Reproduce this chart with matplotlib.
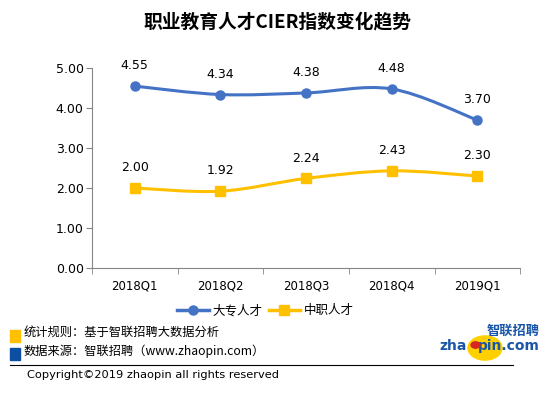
import matplotlib
matplotlib.use("Agg")
import matplotlib.pyplot as plt
from matplotlib.patches import Circle, Rectangle, PathPatch
from matplotlib.path import Path
from matplotlib.lines import Line2D

plt.rcParams["font.family"] = ["Noto Sans CJK SC", "DejaVu Sans"]

quarters = ["2018Q1", "2018Q2", "2018Q3", "2018Q4", "2019Q1"]
dazhuan = [4.55, 4.34, 4.38, 4.48, 3.70]
zhongzhi = [2.00, 1.92, 2.24, 2.43, 2.30]
yticks = [0, 1, 2, 3, 4, 5]

blue = "#4472C4"
yellow = "#FFC000"
axis_gray = "#868686"


def smooth_path(xs, ys):
    # Excel-like smoothed line: cubic bezier segments through the points
    n = len(xs)
    verts = [(xs[0], ys[0])]
    codes = [Path.MOVETO]
    for i in range(n - 1):
        i0 = max(i - 1, 0)
        i3 = min(i + 2, n - 1)
        c1 = (xs[i] + (xs[i + 1] - xs[i0]) / 6, ys[i] + (ys[i + 1] - ys[i0]) / 6)
        c2 = (xs[i + 1] - (xs[i3] - xs[i]) / 6, ys[i + 1] - (ys[i3] - ys[i]) / 6)
        verts += [c1, c2, (xs[i + 1], ys[i + 1])]
        codes += [Path.CURVE4] * 3
    return Path(verts, codes)


fig = plt.figure(figsize=(5.54, 3.94), dpi=100)
ax = fig.add_axes([0.166, 0.320, 0.773, 0.507])

x = list(range(len(quarters)))
for vals, color, mk in [(dazhuan, blue, "o"), (zhongzhi, yellow, "s")]:
    ax.add_patch(PathPatch(smooth_path(x, vals), fill=False, edgecolor=color, lw=2.2,
                           capstyle="round", zorder=3))
    ax.plot(x, vals, ls="none", marker=mk, ms=6.5, color=color, zorder=4)
    for xi, v in zip(x, vals):
        ax.annotate(f"{v:.2f}", (xi, v), xytext=(0, 10), textcoords="offset points",
                    ha="center", va="bottom", fontsize=9, family="DejaVu Sans")

ax.set_xlim(-0.5, len(quarters) - 0.5)
ax.set_ylim(0, 5)
ax.set_yticks(yticks)
ax.set_yticklabels([f"{t:.2f}" for t in yticks], fontsize=9, family="DejaVu Sans")
ax.set_xticks(x)
ax.set_xticklabels(quarters, fontsize=8.5, family="DejaVu Sans")
ax.set_xticks([i - 0.5 for i in range(len(quarters) + 1)], minor=True)
ax.tick_params(axis="x", which="major", length=0, pad=8)
ax.tick_params(axis="x", which="minor", length=4, color=axis_gray)
ax.tick_params(axis="y", length=4, color=axis_gray, pad=2)
for s in ["top", "right"]:
    ax.spines[s].set_visible(False)
for s in ["left", "bottom"]:
    ax.spines[s].set_color(axis_gray)

handles = [Line2D([], [], color=blue, lw=2.5, marker="o", ms=6.5),
           Line2D([], [], color=yellow, lw=2.5, marker="s", ms=6.5)]
ax.legend(handles, ["大专人才", "中职人才"], loc="upper center", bbox_to_anchor=(0.405, -0.125),
          ncol=2, frameon=False, fontsize=9, handlelength=2.5, handletextpad=0.3,
          columnspacing=0.5)

fig.text(0.5, 0.945, "职业教育人才CIER指数变化趋势", ha="center", va="center",
         fontsize=13.5, fontweight="bold")

# footer notes
fig.add_artist(Rectangle((10 / 554, 1 - 342 / 394), 10 / 554, 12 / 394,
                         transform=fig.transFigure, color=yellow))
fig.add_artist(Rectangle((10 / 554, 1 - 360 / 394), 10 / 554, 12 / 394,
                         transform=fig.transFigure, color="#0D4EA2"))
fig.text(24 / 554, 1 - 332 / 394, "统计规则：基于智联招聘大数据分析", fontsize=8.8, va="center")
fig.text(24 / 554, 1 - 351 / 394, "数据来源：智联招聘（www.zhaopin.com）", fontsize=8.8, va="center")
fig.add_artist(Line2D([10 / 554, 513 / 554], [1 - 365 / 394] * 2, transform=fig.transFigure,
                      color="black", lw=0.8))
fig.text(27 / 554, 1 - 375 / 394, "Copyright©2019 zhaopin all rights reserved", fontsize=8.2,
         va="center", family="DejaVu Sans")

# logo
fig.add_artist(Circle((485 / 554, 1 - 348 / 394), 17 / 554, transform=fig.transFigure,
                      color="#FFD000", zorder=1))
fig.text(540 / 554, 1 - 331 / 394, "智联招聘", fontsize=9.5, fontweight="bold", color="#1A56A8",
         ha="right", va="center", zorder=2)
fig.text(439 / 554, 1 - 346 / 394, "zha", fontsize=10, fontweight="bold", color="#1A56A8",
         ha="left", va="center", family="DejaVu Sans", zorder=2)
fig.text(540 / 554, 1 - 346 / 394, "pin.com", fontsize=10, fontweight="bold", color="#1A56A8",
         ha="right", va="center", family="DejaVu Sans", zorder=2)
fig.add_artist(Circle((475.5 / 554, 1 - 345 / 394), 4.5 / 554, transform=fig.transFigure,
                      color="#D7261E", zorder=3))

fig.savefig("out.png", dpi=100)
